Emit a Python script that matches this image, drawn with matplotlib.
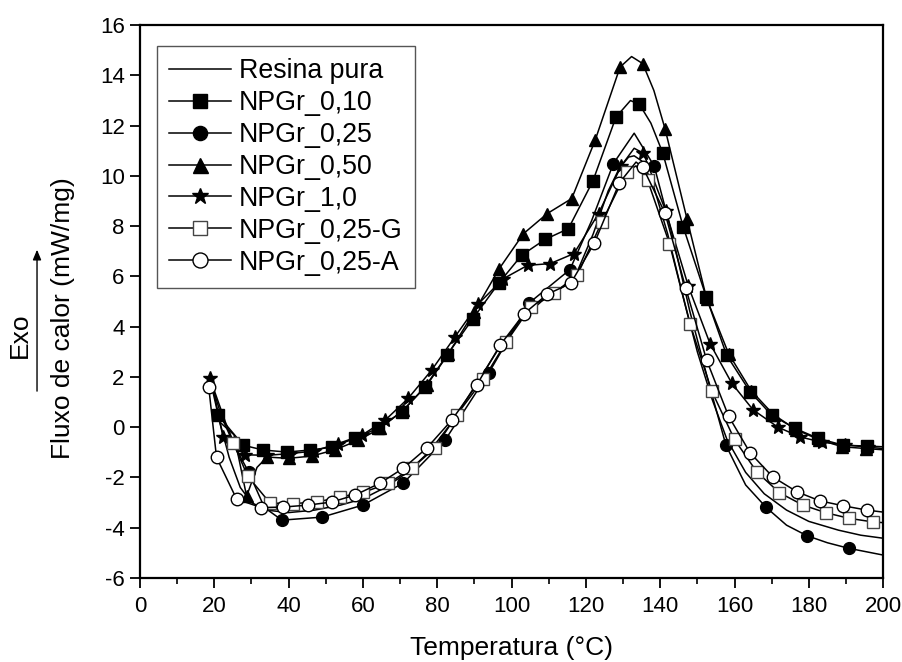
import matplotlib

matplotlib.use("Agg")
import matplotlib.pyplot as plt
import numpy as np

plt.rcParams["font.family"] = ["Liberation Sans", "DejaVu Sans"]
plt.rcParams["axes.unicode_minus"] = False

# Values (temperature in C, heat flow in mW/mg).
# *_t/*_y carry a marker; *_xt/*_xy are extra line-only points.
resina_t = [19.5, 21.5, 24, 27, 30, 34, 40, 47, 54, 60, 66, 72, 78, 84, 90, 96, 102,
            108, 114, 118, 122, 126, 129, 131.5, 133, 135, 138, 142, 146, 150, 154,
            158, 163, 168, 174, 180, 188, 194, 200]
resina_y = [1.7, 0.2, -1.2, -2.4, -3.0, -3.3, -3.4, -3.3, -3.1, -2.85, -2.4, -1.8,
            -0.95, 0.2, 1.6, 3.0, 4.2, 5.0, 5.6, 6.3, 7.7, 9.4, 10.3, 10.75, 10.8, 10.6,
            9.7, 7.7, 5.3, 3.0, 1.1, -0.5, -1.8, -2.65, -3.3, -3.75, -4.1, -4.3, -4.42]

np010_t = [21, 27.8, 33.2, 39.5, 45.8, 51.6, 57.9, 64.1, 70.4, 76.7, 82.6, 89.5, 96.5,
           102.7, 109, 115.3, 121.9, 128.1, 134.4, 140.7, 146.2, 152.4, 157.9, 164.2,
           170, 176.3, 182.6, 189.3, 195.6]
np010_y = [0.48, -0.72, -0.91, -0.99, -0.91, -0.8, -0.44, -0.04, 0.6, 1.6, 2.86, 4.3,
           5.72, 6.84, 7.47, 7.9, 9.8, 12.34, 12.85, 10.91, 7.97, 5.18, 2.86, 1.41,
           0.48, -0.05, -0.45, -0.72, -0.75]
np010_xt = [132, 137.5, 200]
np010_xy = [13.0, 12.1, -0.78]

np025_t = [29.3, 38.2, 49, 60, 70.9, 82.1, 93.8, 104.8, 115.7, 127.4, 138.4, 157.7,
           168.5, 179.5, 190.7]
np025_y = [-1.8, -3.7, -3.58, -3.1, -2.22, -0.52, 2.14, 4.95, 6.27, 10.49, 10.39,
           -0.72, -3.19, -4.32, -4.82]
np025_xt = [19.3, 23, 26, 33.5, 121.5, 133, 143, 148, 153, 163, 174, 185, 200]
np025_xy = [1.75, 0.2, -0.9, -3.2, 8.2, 11.7, 7.8, 4.6, 1.8, -2.3, -3.9, -4.6, -5.09]

np050_t = [28.7, 34.2, 40, 46.2, 52.5, 58.8, 64.6, 70.9, 77.2, 82.9, 90, 96.7, 103.2,
           109.6, 116.2, 122.5, 129.2, 135.3, 141.3, 147.2, 152.5, 158.4, 164.5,
           170.5, 176.6, 182.8, 189, 195.3]
np050_y = [-2.75, -1.19, -1.24, -1.15, -0.9, -0.52, -0.05, 0.68, 1.67, 2.9, 4.6, 6.31,
           7.7, 8.5, 9.1, 11.42, 14.33, 14.47, 11.88, 8.3, 5.12, 2.93, 1.45, 0.5,
           -0.1, -0.5, -0.78, -0.85]
np050_xt = [21.5, 25.3, 31.5, 132.3, 138.3, 200]
np050_xy = [0.2, -0.3, -1.6, 14.75, 13.4, -0.9]

np10_t = [18.8, 22.4, 28.3, 34.2, 40.5, 46.8, 53.4, 59.7, 66, 72.2, 78.5, 84.8, 91,
          97.8, 104.3, 110.4, 116.8, 123.4, 129.5, 135.5, 141.5, 147.6, 153.4, 159.3,
          165, 171.7, 177.7, 183.6, 189.8, 196]
np10_y = [1.95, -0.4, -1.1, -1.12, -1.05, -0.95, -0.65, -0.32, 0.28, 1.15, 2.27, 3.6,
          4.9, 5.91, 6.44, 6.51, 6.91, 8.5, 10.4, 10.9, 8.6, 5.6, 3.33, 1.74, 0.69,
          0.0, -0.39, -0.6, -0.7, -0.8]
np10_xt = [133, 200]
np10_xy = [11.1, -0.85]

npg_t = [25.1, 29, 35, 41.3, 47.6, 53.8, 60, 66.8, 73.2, 79.4, 85.2, 92.4, 98.6, 105.2,
         111.4, 117.7, 124.3, 131, 136.6, 142.5, 148, 153.9, 160, 166, 172.1, 178.4,
         184.7, 190.9, 197.2]
npg_y = [-0.63, -1.95, -3.02, -3.04, -2.98, -2.78, -2.6, -2.24, -1.63, -0.83, 0.48,
         1.9, 3.4, 4.79, 5.34, 6.05, 8.17, 10.16, 9.83, 7.31, 4.12, 1.43, -0.49, -1.78,
         -2.61, -3.1, -3.41, -3.63, -3.77]
npg_xt = [19.2, 22, 133.5, 200]
npg_xy = [1.75, 0.4, 10.4, -3.8]

npa_t = [18.5, 20.6, 26, 32.6, 38.5, 45.3, 51.6, 57.9, 64.6, 70.9, 77.2, 83.9, 90.6,
         96.9, 103.4, 109.6, 115.9, 122.3, 129, 135.3, 141.3, 146.9, 152.5, 158.4,
         164.2, 170.3, 176.8, 182.9, 189.3, 195.6]
npa_y = [1.6, -1.2, -2.86, -3.2, -3.18, -3.1, -2.98, -2.7, -2.23, -1.63, -0.83, 0.28,
         1.67, 3.26, 4.52, 5.29, 5.72, 7.33, 9.72, 10.35, 8.52, 5.52, 2.67, 0.44,
         -1.02, -1.98, -2.57, -2.93, -3.13, -3.3]
npa_xt = [133.5, 200]
npa_xy = [10.55, -3.38]

labels = ["Resina pura", "NPGr_0,10", "NPGr_0,25", "NPGr_0,50", "NPGr_1,0",
          "NPGr_0,25-G", "NPGr_0,25-A"]


def merged(t, y, xt, xy):
    tt = np.array(list(t) + list(xt), dtype=float)
    yy = np.array(list(y) + list(xy), dtype=float)
    mark = np.array([True] * len(t) + [False] * len(xt))
    order = np.argsort(tt)
    return tt[order], yy[order], mark[order]


def main():
    fig = plt.figure(figsize=(9.03, 6.62), dpi=100)
    ax = fig.add_axes([0.155, 0.127, 0.823, 0.835])

    ax.plot(resina_t, resina_y, color="black", lw=1.1, label=labels[0])

    series = [
        (np010_t, np010_y, np010_xt, np010_xy, "s", "black", "black", 8),
        (np025_t, np025_y, np025_xt, np025_xy, "o", "black", "black", 8.5),
        (np050_t, np050_y, np050_xt, np050_xy, "^", "black", "black", 9),
        (np10_t, np10_y, np10_xt, np10_xy, "*", "black", "black", 10),
        (npg_t, npg_y, npg_xt, npg_xy, "s", "white", "#444444", 8),
        (npa_t, npa_y, npa_xt, npa_xy, "o", "white", "black", 9),
    ]
    for (t, y, xt, xy, m, fc, ec, ms), lab in zip(series, labels[1:]):
        tt, yy, mark = merged(t, y, xt, xy)
        ax.plot(tt, yy, color="black", lw=1.1, marker=m, markevery=list(mark),
                markersize=ms, markerfacecolor=fc, markeredgecolor=ec,
                markeredgewidth=1.0, label=lab)

    ax.set_xlim(0, 200)
    ax.set_ylim(-6, 16)
    ax.set_xticks(np.arange(0, 201, 20))
    ax.set_xticks(np.arange(0, 201, 10), minor=True)
    ax.set_yticks(np.arange(-6, 17, 2))
    ax.tick_params(axis="both", which="major", direction="out", length=7, width=1.3,
                   labelsize=16, top=False, right=False)
    ax.tick_params(axis="x", which="major", pad=6)
    ax.tick_params(axis="y", which="major", pad=4)
    ax.tick_params(axis="x", which="minor", direction="out", length=4, width=1.2)
    for sp in ax.spines.values():
        sp.set_linewidth(1.6)

    ax.set_xlabel("Temperatura (°C)", fontsize=19, labelpad=14)
    fig.text(0.07, 0.52, "Fluxo de calor (mW/mg)", rotation=90, fontsize=19,
             ha="center", va="center")
    fig.text(0.022, 0.493, "Exo", rotation=90, fontsize=19, ha="center", va="center")
    fig.patches.append(matplotlib.patches.FancyArrowPatch(
        (0.041, 0.405), (0.041, 0.627), transform=fig.transFigure,
        arrowstyle="-|>,head_length=6,head_width=2.5", color="black", lw=1.0))

    leg = ax.legend(loc="upper left", bbox_to_anchor=(0.023, 0.962), fontsize=19.3,
                    handlelength=2.3, labelspacing=0.22, handletextpad=0.3,
                    borderpad=0.45, borderaxespad=0, fancybox=False, framealpha=1,
                    markerscale=1.2)
    leg.get_frame().set_edgecolor("#555555")
    leg.get_frame().set_linewidth(1.0)

    fig.savefig("out.png", dpi=100)
    plt.close(fig)


if __name__ == "__main__":
    main()
